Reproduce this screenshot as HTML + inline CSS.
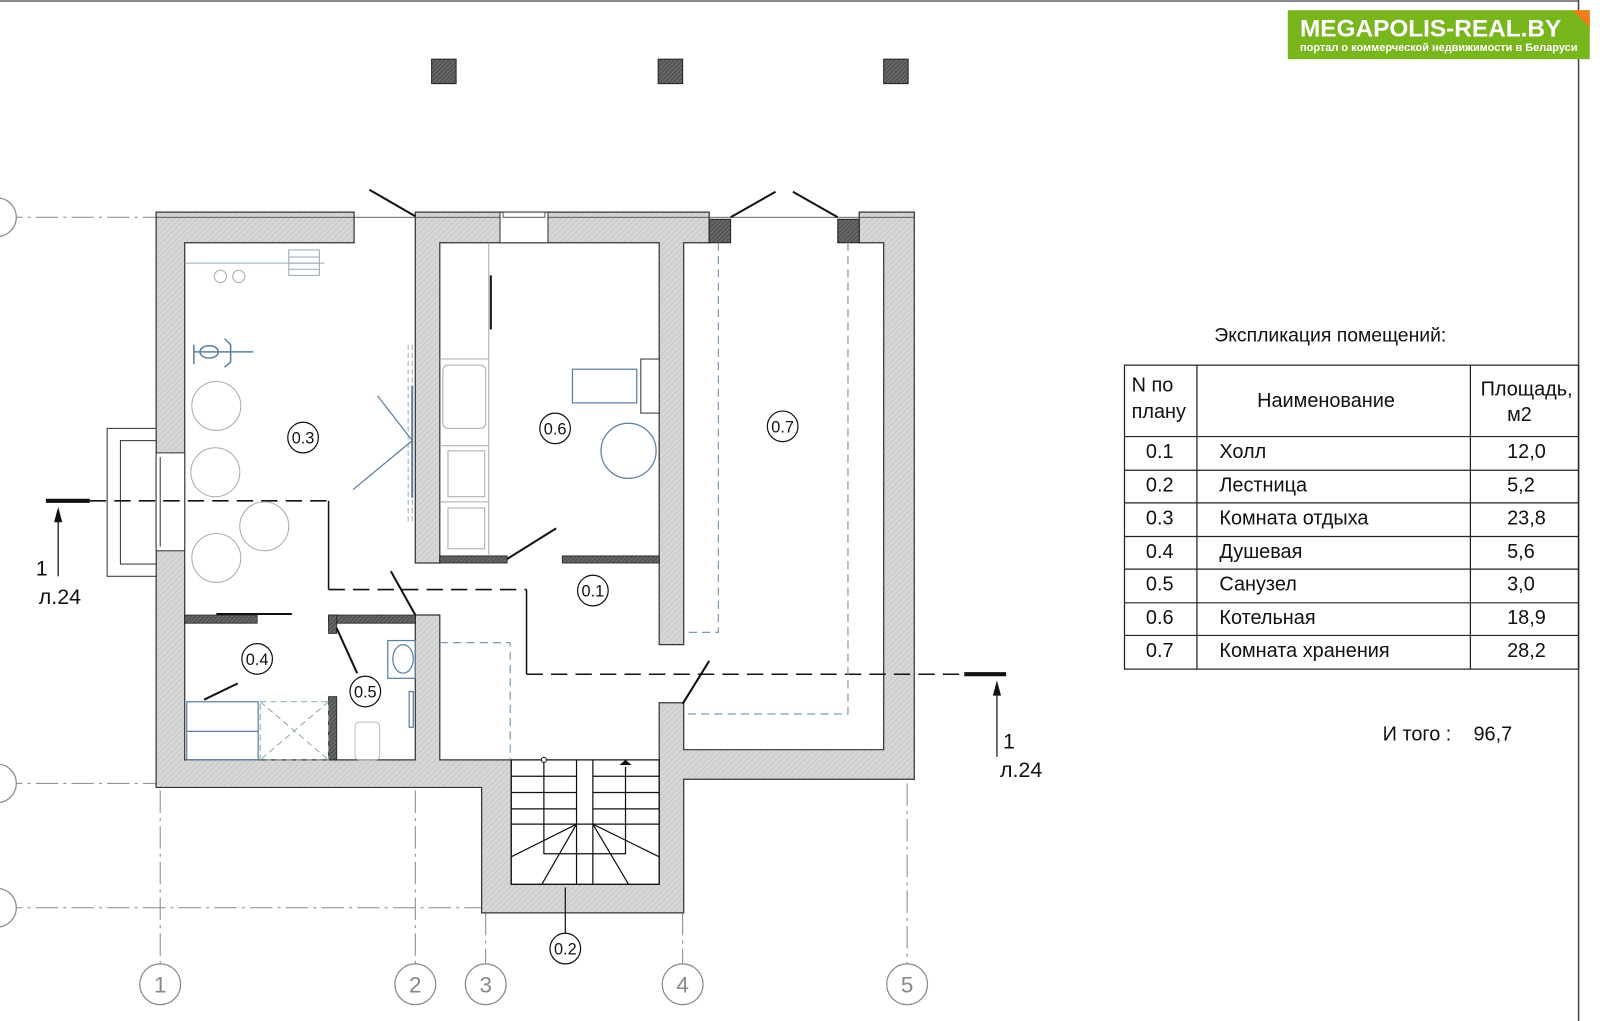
<!DOCTYPE html>
<html><head><meta charset="utf-8"><style>
html,body{margin:0;padding:0;background:#fff;}
svg{display:block;}
text{font-family:"Liberation Sans",Arial,sans-serif;}
</style></head><body>
<svg width="1600" height="1021" viewBox="0 0 1568 1001" preserveAspectRatio="none" xmlns="http://www.w3.org/2000/svg">
<defs>
<pattern id="h" width="4" height="4" patternUnits="userSpaceOnUse" patternTransform="rotate(45)">
<rect width="4" height="4" fill="#d6d6d6"/><line x1="0" y1="0" x2="0" y2="4" stroke="#bdbdbd" stroke-width="1"/></pattern>
<pattern id="d" width="3" height="3" patternUnits="userSpaceOnUse" patternTransform="rotate(45)">
<rect width="3" height="3" fill="#555"/><line x1="0" y1="0" x2="0" y2="3" stroke="#888" stroke-width="1"/></pattern>
</defs>
<rect width="1568" height="1001" fill="#fff"/>
<line x1="0" y1="1" x2="1547" y2="1" stroke="#444" stroke-width="1.2"/>
<line x1="1547" y1="0" x2="1547" y2="1001" stroke="#444" stroke-width="1.5"/>

<rect x="1262" y="10" width="296" height="48" fill="#79b51c"/>
<polygon points="1541,10 1558,10 1558,27" fill="#f07d1a"/>
<text x="1274" y="36" font-size="24" font-weight="bold" fill="#fff" textLength="256" lengthAdjust="spacingAndGlyphs">MEGAPOLIS-REAL.BY</text>
<text x="1274" y="50" font-size="10.5" font-weight="bold" fill="#fff" textLength="272" lengthAdjust="spacingAndGlyphs">портал о коммерческой недвижимости в Беларуси</text>

<rect x="423" y="58" width="24" height="24" fill="url(#d)" stroke="#222"/>
<rect x="645" y="58" width="24" height="24" fill="url(#d)" stroke="#222"/>
<rect x="866" y="58" width="24" height="24" fill="url(#d)" stroke="#222"/>

<g stroke="#888" stroke-width="1" stroke-dasharray="22,5,3,5" fill="none">
<line x1="0" y1="213" x2="153" y2="213"/>
<line x1="0" y1="768" x2="153" y2="768"/>
<line x1="0" y1="890" x2="472" y2="890"/>
<line x1="157" y1="775" x2="157" y2="945"/>
<line x1="407" y1="775" x2="407" y2="945"/>
<line x1="476" y1="895" x2="476" y2="945"/>
<line x1="669" y1="895" x2="669" y2="945"/>
<line x1="889" y1="768" x2="889" y2="945"/>
</g>
<g stroke="#888" stroke-width="1.2" fill="#fff">
<circle cx="-3" cy="213" r="19"/><circle cx="-3" cy="768" r="19"/><circle cx="-3" cy="890" r="19"/>
<circle cx="157" cy="965" r="20"/><circle cx="407" cy="965" r="20"/><circle cx="476" cy="965" r="20"/><circle cx="669" cy="965" r="20"/><circle cx="889" cy="965" r="20"/>
</g>
<g font-size="22" fill="#888" text-anchor="middle">
<text x="157" y="973">1</text><text x="407" y="973">2</text><text x="476" y="973">3</text><text x="669" y="973">4</text><text x="889" y="973">5</text>
</g>

<g fill="url(#h)" stroke="#333" stroke-width="1.2">
<path d="M153,208 H347 V238 H181 V745 H407 V603 H431 V745 H501 V867 H646 V689 H670 V735 H866 V238 H842 V208 H896 V764 H670 V895 H472 V772 H153 Z"/>
<path d="M407,208 H695 V238 H670 V632 H646 V238 H431 V552 H407 Z"/>
</g>
<line x1="153" y1="213" x2="896" y2="213" stroke="#333" stroke-width="0.8"/>
<rect x="490" y="208" width="47" height="30" fill="#fff" stroke="#333"/>
<rect x="493" y="208" width="41" height="5" fill="#fff" stroke="#333" stroke-width="0.8"/>
<rect x="695" y="215" width="21" height="23" fill="url(#d)" stroke="#222"/>
<rect x="821" y="215" width="21" height="23" fill="url(#d)" stroke="#222"/>
<g fill="url(#d)" stroke="#222" stroke-width="0.8">
<rect x="431" y="545" width="66" height="7"/>
<rect x="551" y="545" width="95" height="7"/>
<rect x="181" y="603" width="71" height="8"/>
<rect x="322" y="603" width="85" height="8"/>
<rect x="322" y="603" width="8" height="18"/>
<rect x="322" y="683" width="8" height="62"/>
</g>
<rect x="105" y="420" width="48" height="145" fill="#fff" stroke="#333"/>
<rect x="118" y="432" width="35" height="121" fill="#fff" stroke="#333"/>
<rect x="153" y="444" width="28" height="96" fill="#fff" stroke="#333"/>
<line x1="157" y1="448" x2="157" y2="536" stroke="#333"/>

<g stroke="#111" stroke-width="2" fill="none">
<line x1="362" y1="186" x2="407" y2="212"/>
<line x1="716" y1="213" x2="760" y2="188"/>
<line x1="777" y1="188" x2="821" y2="213"/>
<line x1="497" y1="548" x2="545" y2="518"/>
<line x1="669" y1="690" x2="695" y2="648"/>
<line x1="383" y1="560" x2="407" y2="603"/>
<line x1="330" y1="616" x2="350" y2="660"/>
<line x1="200" y1="686" x2="233" y2="670"/>
<line x1="212" y1="602" x2="286" y2="602"/>
<line x1="481" y1="270" x2="481" y2="323"/>
</g>

<g stroke="#111" stroke-width="1.5" fill="none">
<path d="M88,491 H322" stroke-dasharray="16,8"/>
<path d="M322,491 V578"/>
<path d="M322,578 H516" stroke-dasharray="16,8"/>
<path d="M516,578 V661"/>
<path d="M516,661 H945" stroke-dasharray="16,8"/>
</g>
<line x1="45" y1="491" x2="88" y2="491" stroke="#111" stroke-width="4"/>
<line x1="945" y1="661" x2="986" y2="661" stroke="#111" stroke-width="4"/>
<line x1="57" y1="565" x2="57" y2="502" stroke="#111" stroke-width="1.2"/>
<polygon points="57,497 53,512 61,512" fill="#111"/>
<line x1="977" y1="742" x2="977" y2="672" stroke="#111" stroke-width="1.2"/>
<polygon points="977,667 973,682 981,682" fill="#111"/>
<g font-size="21" fill="#111">
<text x="35" y="564">1</text><text x="38" y="592">л.24</text>
<text x="983" y="734">1</text><text x="980" y="762">л.24</text>
</g>

<g stroke="#7f9ab5" stroke-width="1.2" fill="none" stroke-dasharray="8,5">
<path d="M704,238 V620 H670"/>
<path d="M831,238 V700 H670"/>
<path d="M431,630 H500 V745"/>
</g>

<g stroke="#aaa" fill="none" stroke-width="1">
<circle cx="212" cy="398" r="24"/><circle cx="211" cy="463" r="24"/><circle cx="259" cy="516" r="24"/><circle cx="212" cy="547" r="24"/>
<circle cx="216" cy="271" r="6"/><circle cx="234" cy="271" r="6"/>
</g>
<g stroke="#9ab" fill="none" stroke-width="1">
<line x1="181" y1="258" x2="318" y2="258"/>
<rect x="283" y="245" width="30" height="25"/>
<line x1="283" y1="252" x2="313" y2="252"/><line x1="283" y1="258" x2="313" y2="258"/><line x1="283" y1="264" x2="313" y2="264"/>
<line x1="400" y1="338" x2="400" y2="512" stroke-dasharray="5,3"/>
<line x1="404" y1="338" x2="404" y2="512" stroke-dasharray="5,3"/>
</g>
<g stroke="#5a7ea2" fill="none" stroke-width="1.5">
<path d="M190,338 V357 M190,345 H248 M220,332 L226,338 V355 L220,360"/>
<ellipse cx="205" cy="345" rx="9" ry="6"/>
<line x1="346" y1="480" x2="404" y2="432" stroke-width="1.2"/>
<line x1="370" y1="388" x2="404" y2="432" stroke-width="1.2"/>
<line x1="404" y1="378" x2="404" y2="488" stroke-width="2"/>
</g>
<g stroke="#aaa" fill="none" stroke-width="1">
<line x1="479" y1="238" x2="479" y2="545"/>
<line x1="431" y1="352" x2="479" y2="352"/>
<rect x="434" y="358" width="42" height="62" rx="5"/>
<line x1="431" y1="437" x2="479" y2="437"/>
<rect x="439" y="442" width="36" height="45"/>
<line x1="431" y1="492" x2="479" y2="492"/>
<rect x="439" y="498" width="36" height="40"/>
</g>
<g stroke="#5a7ea2" fill="none" stroke-width="1.2">
<rect x="561" y="362" width="63" height="33"/>
<circle cx="616" cy="442" r="27"/>
</g>
<rect x="628" y="352" width="18" height="53" fill="#fff" stroke="#333"/>
<g stroke="#5a7ea2" fill="none" stroke-width="1.2">
<rect x="183" y="688" width="70" height="57"/>
<line x1="183" y1="717" x2="253" y2="717"/>
<rect x="380" y="628" width="27" height="37"/>
<ellipse cx="395" cy="646" rx="10" ry="14"/>
<rect x="401" y="678" width="4" height="35"/>
</g>
<g stroke="#8aa" fill="none" stroke-width="1" stroke-dasharray="6,4">
<rect x="255" y="688" width="67" height="57"/>
<line x1="255" y1="688" x2="322" y2="745"/><line x1="322" y1="688" x2="255" y2="745"/>
</g>
<rect x="348" y="708" width="24" height="37" rx="4" fill="none" stroke="#bbb"/>

<g stroke="#111" stroke-width="1.2" fill="none">
<rect x="501" y="745" width="145" height="122"/>
<line x1="501" y1="761" x2="565" y2="761"/><line x1="581" y1="761" x2="646" y2="761"/>
<line x1="501" y1="777" x2="565" y2="777"/><line x1="581" y1="777" x2="646" y2="777"/>
<line x1="501" y1="793" x2="565" y2="793"/><line x1="581" y1="793" x2="646" y2="793"/>
<line x1="501" y1="808" x2="646" y2="808"/>
<line x1="565" y1="745" x2="565" y2="867"/><line x1="581" y1="745" x2="581" y2="867"/>
<line x1="565" y1="808" x2="501" y2="840"/><line x1="565" y1="808" x2="531" y2="867"/>
<line x1="581" y1="808" x2="646" y2="840"/><line x1="581" y1="808" x2="616" y2="867"/>
<path d="M533,745 V837 H613 V752"/>
<line x1="554" y1="870" x2="554" y2="916"/>
</g>
<circle cx="533" cy="745" r="2.5" fill="#fff" stroke="#111"/>
<polygon points="613,745 607,750 619,750" fill="#111"/>

<g stroke="#111" stroke-width="1.2" fill="#fff">
<circle cx="297" cy="429" r="15"/><circle cx="544" cy="420" r="15"/><circle cx="767" cy="418" r="15"/>
<circle cx="581" cy="579" r="15"/><circle cx="252" cy="646" r="15"/><circle cx="358" cy="678" r="15"/><circle cx="554" cy="930" r="15"/>
</g>
<g font-size="16" fill="#111" text-anchor="middle">
<text x="297" y="435">0.3</text><text x="544" y="426">0.6</text><text x="767" y="424">0.7</text>
<text x="581" y="585">0.1</text><text x="252" y="652">0.4</text><text x="358" y="684">0.5</text><text x="554" y="936">0.2</text>
</g>

<text x="1190" y="335" font-size="19" fill="#111">Экспликация помещений:</text>
<g stroke="#222" stroke-width="1.2" fill="none">
<rect x="1102" y="358" width="445" height="298"/>
<line x1="1173" y1="358" x2="1173" y2="656"/><line x1="1441" y1="358" x2="1441" y2="656"/>
<line x1="1102" y1="428" x2="1547" y2="428"/><line x1="1102" y1="461" x2="1547" y2="461"/>
<line x1="1102" y1="493" x2="1547" y2="493"/><line x1="1102" y1="526" x2="1547" y2="526"/>
<line x1="1102" y1="558" x2="1547" y2="558"/><line x1="1102" y1="591" x2="1547" y2="591"/>
<line x1="1102" y1="623" x2="1547" y2="623"/>
</g>
<g font-size="19.5" fill="#111">
<text x="1109" y="384">N по</text><text x="1109" y="410">плану</text>
<text x="1232" y="399">Наименование</text>
<text x="1451" y="388">Площадь,</text><text x="1477" y="413">м2</text>
<text x="1123" y="449">0.1</text><text x="1195" y="449">Холл</text><text x="1477" y="449">12,0</text>
<text x="1123" y="482">0.2</text><text x="1195" y="482">Лестница</text><text x="1477" y="482">5,2</text>
<text x="1123" y="514">0.3</text><text x="1195" y="514">Комната отдыха</text><text x="1477" y="514">23,8</text>
<text x="1123" y="547">0.4</text><text x="1195" y="547">Душевая</text><text x="1477" y="547">5,6</text>
<text x="1123" y="579">0.5</text><text x="1195" y="579">Санузел</text><text x="1477" y="579">3,0</text>
<text x="1123" y="612">0.6</text><text x="1195" y="612">Котельная</text><text x="1477" y="612">18,9</text>
<text x="1123" y="644">0.7</text><text x="1195" y="644">Комната хранения</text><text x="1477" y="644">28,2</text>
<text x="1355" y="726">И того :</text><text x="1444" y="726">96,7</text>
</g>
</svg>
</body></html>
